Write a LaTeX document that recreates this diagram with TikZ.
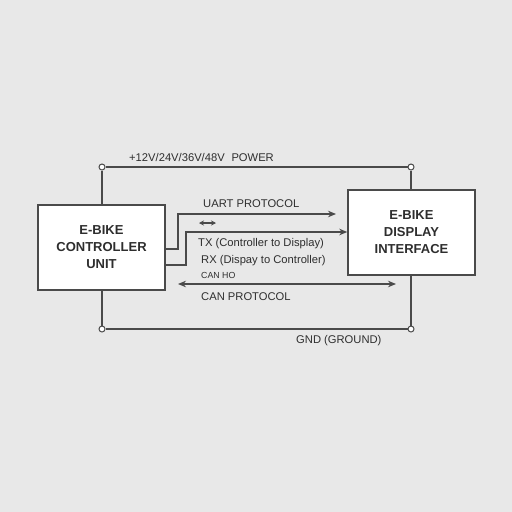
\documentclass[tikz,border=0pt]{standalone}
\usepackage{fontspec}
\setmainfont{Liberation Sans}
\usetikzlibrary{arrows.meta}
\definecolor{bg}{HTML}{E8E8E8}
\definecolor{ln}{HTML}{4A4A4A}
\definecolor{tx}{HTML}{2E2E2E}
\begin{document}
\begin{tikzpicture}[x=1pt,y=-1pt,
  wire/.style={draw=ln,line width=1.4pt},
  arr/.style={wire,-{Stealth[length=8pt,width=6.5pt]}},
  darr/.style={wire,{Stealth[length=8pt,width=6.5pt]}-{Stealth[length=8pt,width=6.5pt]}},
  term/.style={circle,draw=ln,fill=white,line width=1pt,inner sep=0pt,minimum size=6pt},
  blk/.style={draw=ln,fill=white,line width=1.5pt,text=tx,font=\bfseries\fontsize{13}{17}\selectfont,align=center,inner sep=0pt},
  lbl/.style={text=tx,font=\fontsize{11.2}{12}\selectfont,inner sep=0pt,anchor=west},
  slbl/.style={text=tx,font=\fontsize{8.8}{10}\selectfont,inner sep=0pt,anchor=west}]
\fill[bg] (0,0) rectangle (512,512);
\useasboundingbox (0,0) rectangle (512,512);
% boxes
\node[blk,minimum width=127pt,minimum height=85pt] (ctrl) at (101.5,247.5) {E-BIKE\\CONTROLLER\\UNIT};
\node[blk,minimum width=127pt,minimum height=85pt] (disp) at (411.5,232.5) {E-BIKE\\DISPLAY\\INTERFACE};
% terminals
\node[term] (p1) at (102,167) {};
\node[term] (p2) at (411,167) {};
\node[term] (g1) at (102,329) {};
\node[term] (g2) at (411,329) {};
% power and ground
\draw[wire] (p1) -- (p2);
\draw[wire] (g1) -- (g2);
\draw[wire] (p1) -- (ctrl.north -| p1);
\draw[wire] (p2) -- (disp.north -| p2);
\draw[wire] (ctrl.south -| g1) -- (g1);
\draw[wire] (disp.south -| g2) -- (g2);
% uart
\coordinate (u1) at (165,249);
\coordinate (u2) at (336,214);
\draw[arr] (u1) -- (178,249) -- (178,214) -- (u2);
\coordinate (t1) at (165,265);
\draw[arr] (t1) -- (186,265) -- (186,232) -- (disp.west |- 186,232);
\coordinate (s1) at (199,223);
\coordinate (s2) at (216,223);
\draw[ln,line width=1.2pt,{Stealth[length=5pt,width=5pt]}-{Stealth[length=5pt,width=5pt]}] (s1) -- (s2);
% can
\coordinate (c1) at (178,284);
\coordinate (c2) at (396,284);
\draw[darr] (c1) -- (c2);
% labels
\node[lbl] (lp) at (129,157) {+12V/24V/36V/48V\hspace{0.6em}POWER};
\node[lbl] (lu) at (203,204) {UART PROTOCOL};
\node[lbl] (ltx) at (198,244) {TX (Controller to Display)};
\node[lbl] (lrx) at (201,261) {RX (Dispay to Controller)};
\node[slbl] (lch) at (201,275) {CAN HO};
\node[lbl] (lc) at (201,297) {CAN PROTOCOL};
\node[lbl] (lg) at (296,341) {GND (GROUND)};
\end{tikzpicture}
\end{document}
